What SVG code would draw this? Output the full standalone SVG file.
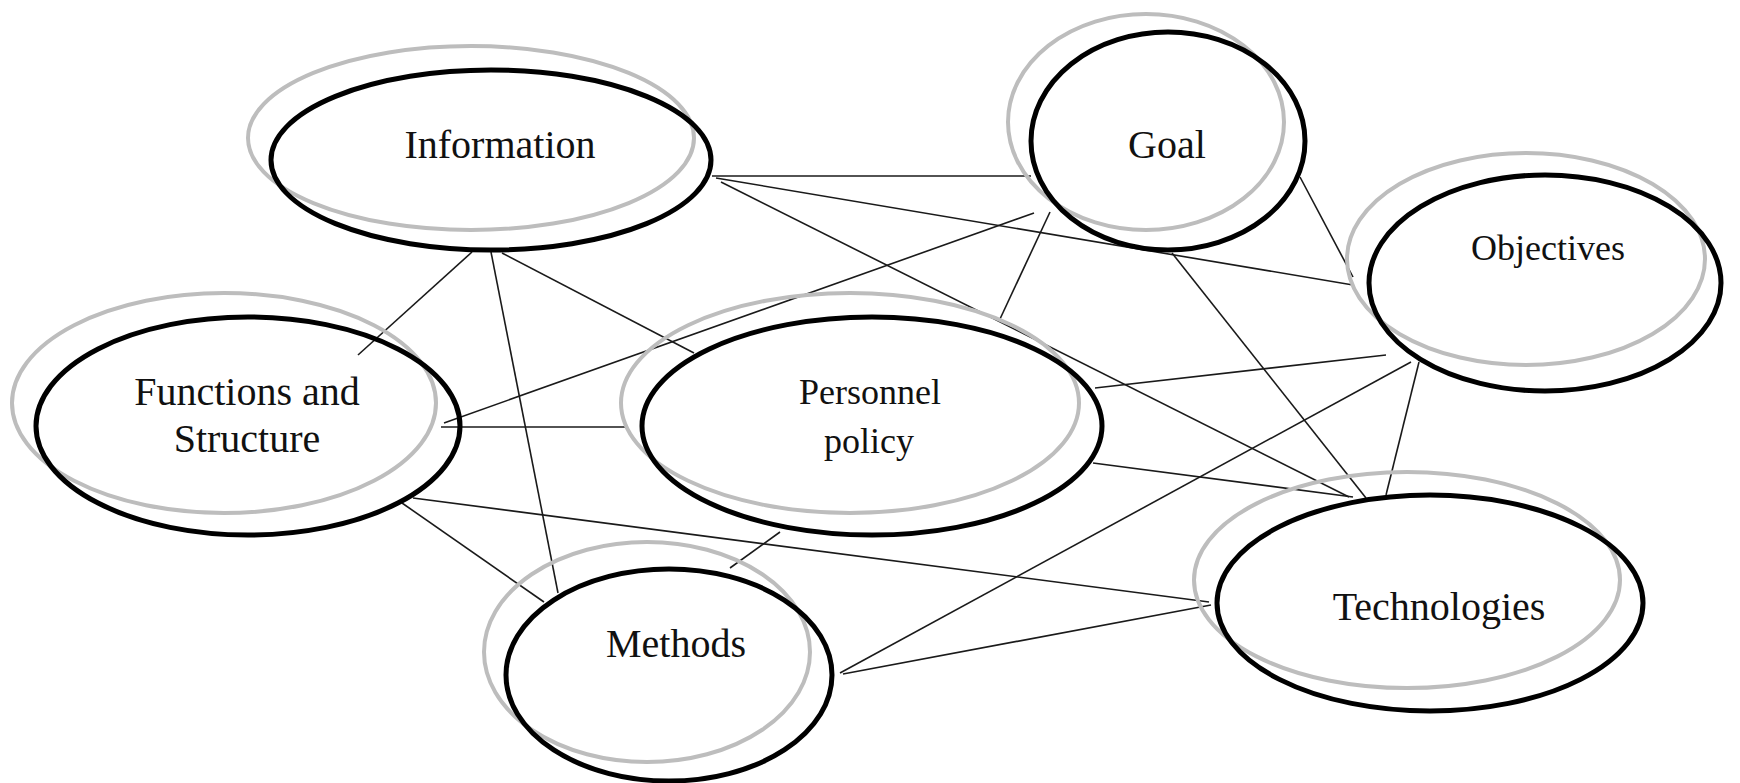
<svg xmlns="http://www.w3.org/2000/svg" width="1740" height="783" viewBox="0 0 1740 783">
<style>
.bg{fill:#fff}
.sh{fill:none;stroke:#bdbdbd;stroke-width:4}
.ol{fill:none;stroke:#000;stroke-width:5}
.ln{stroke:#1a1a1a;stroke-width:1.6;fill:none}
.t{font-family:"Liberation Serif","Times New Roman",serif;fill:#111;text-anchor:middle}
.t40{font-size:40px}
.t36{font-size:36px}
</style>
<rect class="bg" x="0" y="0" width="1740" height="783"/>
<g id="connectors">
<line class="ln" x1="712" y1="176" x2="1031" y2="176"/>
<line class="ln" x1="716" y1="178" x2="1353" y2="285"/>
<line class="ln" x1="721" y1="182" x2="1349" y2="497"/>
<line class="ln" x1="472" y1="252" x2="358" y2="355"/>
<line class="ln" x1="491" y1="252" x2="558" y2="593"/>
<line class="ln" x1="502" y1="253" x2="694" y2="353"/>
<line class="ln" x1="444" y1="423" x2="1034" y2="213"/>
<line class="ln" x1="441" y1="427" x2="625" y2="427"/>
<line class="ln" x1="413" y1="498" x2="1209" y2="602"/>
<line class="ln" x1="402" y1="503" x2="544" y2="602"/>
<line class="ln" x1="1300" y1="177" x2="1353" y2="277"/>
<line class="ln" x1="1050" y1="212" x2="1000" y2="319"/>
<line class="ln" x1="1172" y1="253" x2="1366" y2="498"/>
<line class="ln" x1="1095" y1="388" x2="1386" y2="355"/>
<line class="ln" x1="1093" y1="463" x2="1353" y2="497"/>
<line class="ln" x1="780" y1="532" x2="730" y2="568"/>
<line class="ln" x1="1411" y1="362" x2="840" y2="673"/>
<line class="ln" x1="1419" y1="362" x2="1386" y2="495"/>
<line class="ln" x1="843" y1="674" x2="1211" y2="605"/>
</g>
<g id="node-information">
<ellipse class="sh" cx="471" cy="138" rx="223" ry="92"/>
<ellipse class="ol" cx="491" cy="160" rx="220" ry="90"/>
<text class="t t40" x="500" y="158">Information</text>
</g>
<g id="node-goal">
<ellipse class="sh" cx="1146" cy="122" rx="138" ry="108"/>
<ellipse class="ol" cx="1168" cy="141" rx="137" ry="109"/>
<text class="t t40" x="1167" y="158">Goal</text>
</g>
<g id="node-objectives">
<ellipse class="sh" cx="1526" cy="259" rx="179" ry="106"/>
<ellipse class="ol" cx="1545" cy="283" rx="176" ry="108"/>
<text class="t t36" x="1548" y="260">Objectives</text>
</g>
<g id="node-functions">
<ellipse class="sh" cx="224" cy="403" rx="212" ry="110"/>
<ellipse class="ol" cx="248" cy="426" rx="212" ry="109"/>
<text class="t t40" x="247" y="405">Functions and</text>
<text class="t t40" x="247" y="452">Structure</text>
</g>
<g id="node-personnel">
<ellipse class="sh" cx="850" cy="403" rx="229" ry="110"/>
<ellipse class="ol" cx="872" cy="426" rx="230" ry="109"/>
<text class="t t36" x="870" y="404">Personnel</text>
<text class="t t36" x="869" y="453">policy</text>
</g>
<g id="node-methods">
<ellipse class="sh" cx="647" cy="652" rx="163" ry="110"/>
<ellipse class="ol" cx="669" cy="675" rx="163" ry="106"/>
<text class="t t40" x="676" y="657">Methods</text>
</g>
<g id="node-technologies">
<ellipse class="sh" cx="1407" cy="580" rx="213" ry="108"/>
<ellipse class="ol" cx="1430" cy="603" rx="213" ry="108"/>
<text class="t t40" x="1439" y="620">Technologies</text>
</g>
</svg>
